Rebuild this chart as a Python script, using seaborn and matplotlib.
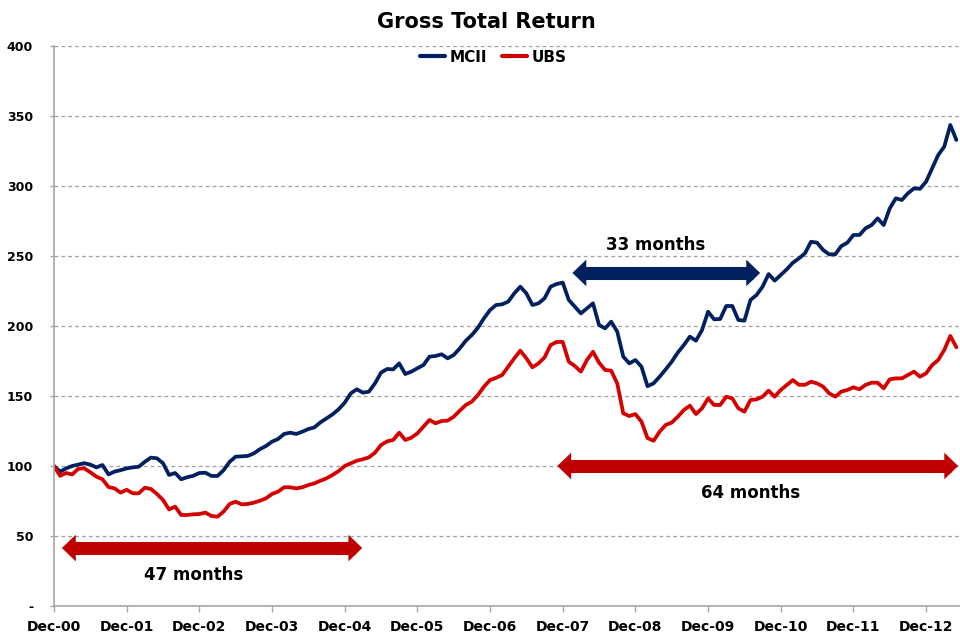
import numpy as np
import pandas as pd
import seaborn as sns
import matplotlib
matplotlib.use("Agg")
import matplotlib.pyplot as plt

# Monthly index values, Dec-00 = 100
mcii = [100, 96, 98.3, 100, 101, 102, 101, 99, 100.7, 94, 96, 97, 98.3, 99, 99.5, 103, 106, 105.5, 102, 93.6, 95, 90.5, 92, 93, 95,
        95.2, 92.9, 92.9, 97, 103, 106.7, 106.9, 107.2, 109, 112, 114.3, 117.4, 119.3, 122.9, 123.8, 122.9, 124.5, 126.4, 127.6, 131.2, 134, 136.9, 140.5, 145.2,
        151.9, 154.8, 152.4, 153.1, 159, 166.7, 169.3, 169, 173.3, 165.7, 167.4, 169.8, 172.1, 178.1, 178.6, 179.8, 176.9, 179.3, 184, 189.5, 193.6, 198.8, 205.5, 211.4, 215,
        215.5, 217.4, 223.3, 228.1, 223.3, 215, 216.2, 219.8, 228.1, 230, 231, 218.6, 213.8, 209, 212.6, 216.2, 200.7, 198.3, 203.1, 196, 178.1, 173.3, 175.7, 171, 157, 159,
        163.8, 169, 174.5, 181, 186.4, 192.4, 189.5, 197.1, 210.2, 204.8, 205, 214.3, 214.3, 204.3, 203.8, 218.6, 222.1, 228.1, 237.1, 232.4, 236.4, 240.5, 245.2, 248.3,
        251.9, 260.2, 259.5, 254.3, 251.2, 251.2, 257.1, 259.5, 265, 265, 269.8, 272.1, 276.9, 272.1, 284, 291.2, 290, 294.8, 298.3, 298, 303.1, 312.6, 322.1, 328.1, 343.6, 332.9]

ubs = [100, 93, 95, 94, 98, 98.3, 95.5, 92.4, 90.5, 85, 84, 81, 83, 80.5, 80.5, 84.5, 83.6, 80, 75.7, 69, 71, 65, 65, 65.5, 65.7,
       66.7, 64.3, 63.8, 67.4, 72.9, 74.5, 72.6, 72.9, 73.8, 75.2, 76.9, 80, 81.7, 84.8, 84.8, 84, 84.8, 86.4, 87.6, 89.5, 91.2, 93.6, 96.4, 100,
       101.9, 103.8, 104.8, 106.2, 109.5, 115, 117.6, 118.6, 123.8, 118.6, 120.2, 123.3, 128.1, 132.9, 130.5, 132.1, 132.4, 135.2, 139.5, 143.6, 146, 150.7, 156.7, 161.4, 163,
       165, 171, 176.9, 182.4, 176.9, 170.5, 173.3, 177.6, 186.4, 188.6, 188.6, 174.5, 171.4, 167.4, 175.7, 181.6, 173.8, 168.6, 168.1, 159, 137.6, 135.7, 137.1, 131.7, 120, 118,
       124.5, 129.3, 131, 135.2, 140, 143.1, 137.1, 141.2, 148.3, 143.6, 143.6, 149.5, 148.3, 141.2, 138.8, 147.1, 147.6, 149.5, 153.8, 149.5, 154.3, 157.9, 161.4, 158,
       158, 160.2, 159, 156.7, 151.9, 149.5, 153.1, 154.3, 156.2, 154.8, 157.9, 159.5, 159.5, 155.5, 161.9, 162.6, 162.6, 165, 167.4, 163.8, 166.2, 172.1, 175.7, 182.9, 192.9, 184.8]

x_labels = ["Dec-00", "Dec-01", "Dec-02", "Dec-03", "Dec-04", "Dec-05", "Dec-06",
            "Dec-07", "Dec-08", "Dec-09", "Dec-10", "Dec-11", "Dec-12"]
y_ticks = [0, 50, 100, 150, 200, 250, 300, 350, 400]
y_labels = ["-", "50", "100", "150", "200", "250", "300", "350", "400"]

navy = "#002060"
red = "#D50000"
dark_red = "#C00000"

months = np.arange(len(mcii))
df = pd.DataFrame({
    "month": np.concatenate([months, months]),
    "value": mcii + ubs,
    "series": ["MCII"] * len(mcii) + ["UBS"] * len(ubs),
})

sns.set_theme(style="white")
plt.rcParams['font.family'] = ['DejaVu Sans']
plt.rcParams['font.weight'] = 'bold'
plt.rcParams['text.color'] = 'black'
plt.rcParams['xtick.color'] = 'black'
plt.rcParams['ytick.color'] = 'black'

fig = plt.figure(figsize=(9.6, 6.34), dpi=100)
ax = fig.add_axes([54 / 960, 28 / 634, 906 / 960, 560 / 634])

sns.lineplot(data=df, x="month", y="value", hue="series",
             palette={"MCII": navy, "UBS": red}, linewidth=2.7, ax=ax)

ax.set_xlim(0, 149.6)
ax.set_ylim(0, 400)
ax.set_xticks(np.arange(0, 150, 12))
ax.set_xticklabels(x_labels, fontsize=10, fontweight='bold', color='black')
ax.set_yticks(y_ticks)
ax.set_yticklabels(y_labels, fontsize=9, fontweight='bold', color='black')
ax.set_xlabel(None)
ax.set_ylabel(None)

ax.yaxis.grid(True, color='#a0a0a0', linestyle=(0, (3, 2.5)), linewidth=0.9)
ax.xaxis.grid(False)
ax.set_axisbelow(True)

for s in ['top', 'right']:
    ax.spines[s].set_visible(False)
for s in ['left', 'bottom']:
    ax.spines[s].set_color('#a6a6a6')
    ax.spines[s].set_linewidth(1.2)

ax.tick_params(axis='x', bottom=True, length=4, width=1, color='#a6a6a6', pad=6)
ax.tick_params(axis='y', left=True, length=3, width=1, color='#a6a6a6', pad=12)

leg = ax.legend(loc='upper center', bbox_to_anchor=(0.485, 1.018), ncol=2, frameon=False,
                handlelength=1.6, handletextpad=0.3, columnspacing=1.0,
                prop={'weight': 'bold', 'size': 11})
for line in leg.get_lines():
    line.set_linewidth(3)

fig.text(486 / 960, 1 - 22 / 634, "Gross Total Return", ha='center', va='center',
         fontsize=15, fontweight='bold', color='black')


def double_arrow(x0, x1, y, color):
    # shaft as a thick butt-capped line, heads as filled triangles
    ax.plot([x0 + 1.2, x1 - 1.2], [y, y], color=color, lw=9.4, solid_capstyle='butt')
    for start, end in ((x0 + 3, x0), (x1 - 3, x1)):
        ax.annotate('', xy=(end, y), xytext=(start, y),
                    arrowprops=dict(arrowstyle='-|>,head_length=0.5,head_width=0.48',
                                    mutation_scale=20, color=color,
                                    lw=0, shrinkA=0, shrinkB=0))


double_arrow(1.3, 50.9, 41.4, dark_red)
ax.text(23, 22, "47 months", ha='center', va='center', fontsize=12, fontweight='bold')

double_arrow(83.1, 149.3, 100, dark_red)
ax.text(115, 80.7, "64 months", ha='center', va='center', fontsize=12, fontweight='bold')

double_arrow(85.6, 116.6, 237.9, navy)
ax.text(99.3, 257.9, "33 months", ha='center', va='center', fontsize=12, fontweight='bold')

plt.savefig('out.png', dpi=100)
